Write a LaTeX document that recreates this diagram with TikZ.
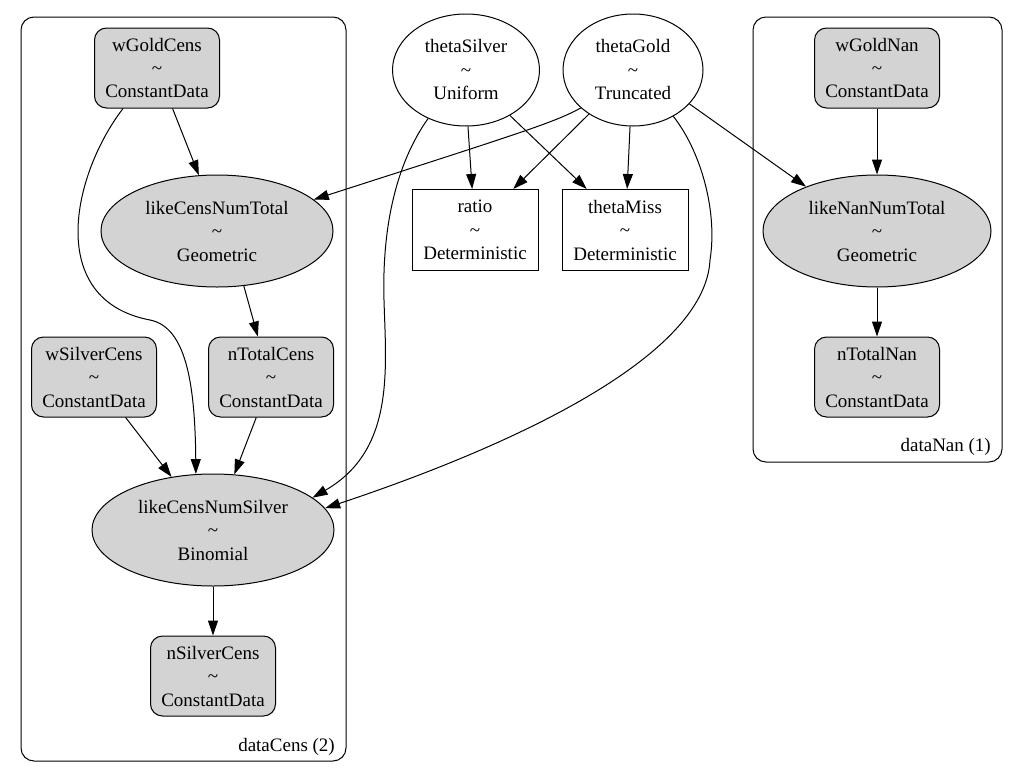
\documentclass[tikz,border=0pt]{standalone}
\usepackage{fontspec}
\setmainfont{Liberation Serif}
\usetikzlibrary{arrows.meta,shapes.geometric}
\definecolor{obsgray}{HTML}{D3D3D3}

\begin{document}
\begin{tikzpicture}[
    x=1pt,y=-1pt,
    every node/.style={font=\fontsize{19}{23.5}\selectfont,align=center,inner sep=0pt},
    data/.style={draw,line width=1pt,rounded corners=12pt,fill=obsgray,minimum width=125pt,minimum height=80pt},
    free/.style={draw,line width=1pt,ellipse,minimum height=112pt},
    like/.style={free,fill=obsgray},
    det/.style={draw,line width=1pt,minimum width=126pt,minimum height=81pt},
    plate/.style={draw,line width=1pt,rounded corners=13pt},
    arr/.style={-{Triangle[length=15pt,width=10pt]},line width=1pt}
]
\useasboundingbox (0,0) rectangle (1015,771);
\draw[plate] (21,17) rectangle (346,761);
\draw[plate] (753,17) rectangle (1002,462);
\node[anchor=east] (dataCensLabel) at (335,747) {dataCens (2)};
\node[anchor=east] (dataNanLabel) at (991,447) {dataNan (1)};

\node[data] (wGoldCens) at (157,68) {wGoldCens\\\textasciitilde\\ConstantData};
\node[free,minimum width=147pt] (thetaSilver) at (466,70) {thetaSilver\\\textasciitilde\\Uniform};
\node[free,minimum width=140pt] (thetaGold) at (633,70) {thetaGold\\\textasciitilde\\Truncated};
\node[data] (wGoldNan) at (877,68) {wGoldNan\\\textasciitilde\\ConstantData};
\node[like,minimum width=232pt] (likeCensNumTotal) at (217,231) {likeCensNumTotal\\\textasciitilde\\Geometric};
\node[det] (ratio) at (475,230) {ratio\\\textasciitilde\\Deterministic};
\node[det] (thetaMiss) at (625,230) {thetaMiss\\\textasciitilde\\Deterministic};
\node[like,minimum width=228pt] (likeNanNumTotal) at (877,231) {likeNanNumTotal\\\textasciitilde\\Geometric};
\node[data] (wSilverCens) at (94,377) {wSilverCens\\\textasciitilde\\ConstantData};
\node[data] (nTotalCens) at (271,377) {nTotalCens\\\textasciitilde\\ConstantData};
\node[data] (nTotalNan) at (877,377) {nTotalNan\\\textasciitilde\\ConstantData};
\node[like,minimum width=242pt] (likeCensNumSilver) at (213,530) {likeCensNumSilver\\\textasciitilde\\Binomial};
\node[data] (nSilverCens) at (213,676) {nSilverCens\\\textasciitilde\\ConstantData};

\draw[arr] (wGoldCens.-69) -- (likeCensNumTotal.108);
\draw[arr] (wGoldCens.-130) .. controls (72,175) and (45,300) .. (150,320) .. controls (185,327) and (195,380) .. (likeCensNumSilver.107);
\draw[arr] (thetaSilver.-88) -- (ratio.94);
\draw[arr] (thetaSilver.-46) -- (thetaMiss.133);
\draw[arr] (thetaSilver.-128) .. controls (395,165) and (382,230) .. (384,300) .. controls (386,370) and (395,450) .. (likeCensNumSilver.18);
\draw[arr] (thetaGold.-144) .. controls (555,122) and (530,130) .. (likeCensNumTotal.18);
\draw[arr] (thetaGold.-135) -- (ratio.47);
\draw[arr] (thetaGold.-93) -- (thetaMiss.87);
\draw[arr] (thetaGold.-31) -- (likeNanNumTotal.148);
\draw[arr] (thetaGold.-49) .. controls (700,150) and (718,210) .. (710,260) .. controls (705,360) and (500,450) .. (likeCensNumSilver.11);
\draw[arr] (wGoldNan) -- (likeNanNumTotal);
\draw[arr] (likeNanNumTotal) -- (nTotalNan);
\draw[arr] (likeCensNumTotal.-64) -- (nTotalCens.108);
\draw[arr] (wSilverCens.-52) -- (likeCensNumSilver.128);
\draw[arr] (nTotalCens.-110) -- (likeCensNumSilver.69);
\draw[arr] (likeCensNumSilver) -- (nSilverCens);
\end{tikzpicture}
\end{document}
